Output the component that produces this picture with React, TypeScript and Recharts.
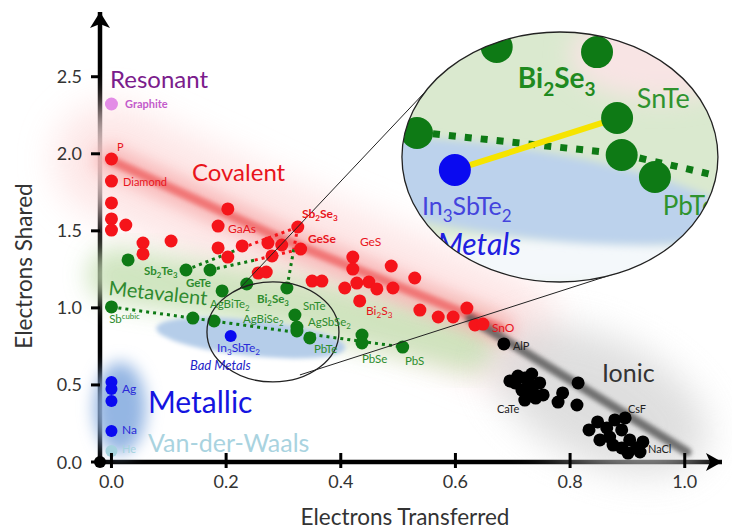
import { Scatter, ScatterChart, XAxis, YAxis } from 'recharts'

const FONT = 'Lato, "Open Sans", sans-serif'

// x = electrons transferred, y = electrons shared
const covalent = [
  { x: 0.0, y: 1.966 }, { x: 0.0, y: 1.823 }, { x: 0.0, y: 1.681 }, { x: 0.0, y: 1.577 },
  { x: 0.0, y: 1.505 }, { x: 0.025, y: 1.538 }, { x: 0.055, y: 1.421 }, { x: 0.055, y: 1.35 },
  { x: 0.104, y: 1.434 }, { x: 0.203, y: 1.642 }, { x: 0.186, y: 1.531 }, { x: 0.186, y: 1.389 },
  { x: 0.228, y: 1.402 }, { x: 0.203, y: 1.33 }, { x: 0.273, y: 1.421 }, { x: 0.325, y: 1.525 },
  { x: 0.297, y: 1.408 }, { x: 0.28, y: 1.337 }, { x: 0.33, y: 1.382 }, { x: 0.256, y: 1.226 },
  { x: 0.27, y: 1.233 }, { x: 0.35, y: 1.174 }, { x: 0.367, y: 1.174 }, { x: 0.421, y: 1.33 },
  { x: 0.421, y: 1.252 }, { x: 0.407, y: 1.129 }, { x: 0.428, y: 1.161 }, { x: 0.449, y: 1.168 },
  { x: 0.463, y: 1.123 }, { x: 0.433, y: 1.045 }, { x: 0.488, y: 1.272 }, { x: 0.491, y: 1.129 },
  { x: 0.529, y: 1.194 }, { x: 0.538, y: 0.986 }, { x: 0.57, y: 0.941 }, { x: 0.596, y: 0.941 },
  { x: 0.62, y: 0.999 }, { x: 0.634, y: 0.889 }, { x: 0.648, y: 0.895 },
]

const metavalent = [
  { x: 0.029, y: 1.311 }, { x: 0.13, y: 1.246 }, { x: 0.172, y: 1.246 }, { x: 0.193, y: 1.11 },
  { x: 0.236, y: 1.155 }, { x: 0.0, y: 1.006 }, { x: 0.142, y: 0.934 }, { x: 0.179, y: 0.915 },
  { x: 0.306, y: 1.129 }, { x: 0.32, y: 0.954 }, { x: 0.3235, y: 0.876 }, { x: 0.3235, y: 0.85 },
  { x: 0.346, y: 0.805 }, { x: 0.437, y: 0.824 }, { x: 0.437, y: 0.772 }, { x: 0.508, y: 0.746 },
]

const metallic = [
  { x: 0.0, y: 0.519 }, { x: 0.0, y: 0.474 }, { x: 0.0, y: 0.396 }, { x: 0.0, y: 0.201 },
]
const badMetal = [{ x: 0.208, y: 0.818 }]
const vanDerWaals = [{ x: 0.0, y: 0.071 }]
const resonant = [{ x: 0.0, y: 2.323 }]

const ionic = [
  { x: 0.6845, y: 0.766 }, { x: 0.695, y: 0.526 }, { x: 0.709, y: 0.558 }, { x: 0.721, y: 0.545 },
  { x: 0.733, y: 0.571 }, { x: 0.704, y: 0.513 }, { x: 0.73, y: 0.5 }, { x: 0.747, y: 0.513 },
  { x: 0.716, y: 0.467 }, { x: 0.726, y: 0.435 }, { x: 0.74, y: 0.415 }, { x: 0.753, y: 0.435 },
  { x: 0.721, y: 0.402 }, { x: 0.735, y: 0.454 }, { x: 0.787, y: 0.448 }, { x: 0.814, y: 0.513 },
  { x: 0.779, y: 0.389 }, { x: 0.812, y: 0.37 }, { x: 0.833, y: 0.208 }, { x: 0.848, y: 0.26 },
  { x: 0.864, y: 0.221 }, { x: 0.878, y: 0.273 }, { x: 0.896, y: 0.286 }, { x: 0.89, y: 0.208 },
  { x: 0.869, y: 0.162 }, { x: 0.852, y: 0.143 }, { x: 0.904, y: 0.143 }, { x: 0.916, y: 0.091 },
  { x: 0.927, y: 0.13 }, { x: 0.89, y: 0.091 }, { x: 0.901, y: 0.058 }, { x: 0.875, y: 0.11 },
  { x: 0.922, y: 0.065 },
]

// dotted transitions (start, colour change, end)
const sbTeToSbSe = [{ x: 0.13, y: 1.246 }, { x: 0.228, y: 1.39 }, { x: 0.325, y: 1.525 }]
const geTeToGeSe = [{ x: 0.172, y: 1.246 }, { x: 0.25, y: 1.31 }, { x: 0.33, y: 1.382 }]
const sbSeToBiSe = [{ x: 0.325, y: 1.525 }, { x: 0.318, y: 1.38 }, { x: 0.306, y: 1.129 }]
const sbToPbS = [{ x: 0.0, y: 1.006 }, { x: 0.508, y: 0.746 }]

// shaded regions
const covalentBand = [{ x: -0.003, y: 1.96 }, { x: 0.285, y: 1.467 }, { x: 0.678, y: 0.87 }]
const ionicBand = [{ x: 0.625, y: 0.934 }, { x: 1.004, y: 0.065 }]
const metavalentBand = [{ x: 0.006, y: 1.213 }, { x: 0.329, y: 1.019 }, { x: 0.625, y: 0.759 }]
const metallicCloud = [{ x: 0.015, y: 0.35 }]
const badMetalCloud = [{ x: 0.243, y: 0.805 }]
const ionicCloud = [{ x: 0.852, y: 0.402 }]

// magnifier
const lensSmall = [{ x: 0.2817, y: 0.844 }]
const lensBig = [{ x: 0.7823, y: 1.979 }]
const lensTop = [{ x: 0.221, y: 1.116 }, { x: 0.5503, y: 2.414 }]
const lensBottom = [{ x: 0.3287, y: 0.565 }, { x: 0.8869, y: 1.233 }]
const lensGreen = [
  { x: 0.672, y: 2.693 }, { x: 0.847, y: 2.66 }, { x: 0.533, y: 2.135 },
  { x: 0.882, y: 2.232 }, { x: 0.89, y: 1.992 }, { x: 0.948, y: 1.849 },
]
const lensBlue = [{ x: 0.599, y: 1.895 }]
const lensBond = [{ x: 0.599, y: 1.895 }, { x: 0.882, y: 2.232 }]
const lensDotted = [{ x: 0.533, y: 2.141 }, { x: 0.89, y: 1.999 }, { x: 1.058, y: 1.856 }]
const lensBlueCloud = [{ x: 0.69, y: 1.76 }]
const lensPinkCloud = [{ x: 0.957, y: 2.641 }]
const lensWhiteCloud = [{ x: 0.782, y: 1.3 }]

// labels
const redSmall = [
  { text: 'GaAs', x: 0.2032, y: 1.486 }, { text: 'GeS', x: 0.4334, y: 1.402 },
  { text: 'Bi_2S_3', x: 0.4439, y: 0.954 }, { text: 'SnO', x: 0.6636, y: 0.844 },
]
const redBold = [{ text: 'Sb_2Se_3', x: 0.3323, y: 1.583 }, { text: 'GeSe', x: 0.3427, y: 1.421 }]
const redTiny = [{ text: 'P', x: 0.0096, y: 2.018 }, { text: 'Diamond', x: 0.0201, y: 1.791 }]
const greenSmall = [
  { text: 'Sb^cubic', x: -0.004, y: 0.902 }, { text: 'AgBiTe_2', x: 0.1718, y: 0.999 },
  { text: 'AgBiSe_2', x: 0.2294, y: 0.902 }, { text: 'SnTe', x: 0.334, y: 0.986 },
  { text: 'AgSbSe_2', x: 0.3427, y: 0.883 }, { text: 'PbTe', x: 0.3532, y: 0.707 },
  { text: 'PbSe', x: 0.4369, y: 0.642 }, { text: 'PbS', x: 0.5119, y: 0.629 },
]
const greenBold = [
  { text: 'Sb_2Te_3', x: 0.0567, y: 1.213 }, { text: 'GeTe', x: 0.13, y: 1.136 },
  { text: 'Bi_2Se_3', x: 0.2538, y: 1.032 },
]
const blueSmall = [
  { text: 'In_3SbTe_2', x: 0.184, y: 0.714 }, { text: 'Ag', x: 0.0184, y: 0.448 },
  { text: 'Na', x: 0.0184, y: 0.182 },
]
const heLabel = [{ text: 'He', x: 0.0184, y: 0.058 }]
const graphiteLabel = [{ text: 'Graphite', x: 0.0236, y: 2.297 }]
const blackSmall = [
  { text: 'AlP', x: 0.7003, y: 0.727 }, { text: 'CaTe', x: 0.6724, y: 0.318 },
  { text: 'CsF', x: 0.9009, y: 0.318 }, { text: 'NaCl', x: 0.9358, y: 0.058 },
]
const titles = [
  { text: 'Resonant', x: -0.0026, y: 2.427 }, { text: 'Covalent', x: 0.1404, y: 1.823 },
  { text: 'Metavalent', x: -0.006, y: 1.084 }, { text: 'Bad Metals', x: 0.1369, y: 0.597 },
  { text: 'Metallic', x: 0.0637, y: 0.318 }, { text: 'Van-der-Waals', x: 0.0637, y: 0.065 },
  { text: 'Ionic', x: 0.8555, y: 0.519 },
]
const lensLabels = [
  { text: 'Bi_2Se_3', x: 0.7089, y: 2.427 }, { text: 'SnTe', x: 0.9165, y: 2.297 },
  { text: 'PbTe', x: 0.9618, y: 1.603 }, { text: 'In_3SbTe_2', x: 0.5416, y: 1.6 },
  { text: 'Metals', x: 0.5677, y: 1.34 },
]

const origin = [{ x: -0.02, y: 0 }]
const xEnd = [{ x: 1.065, y: 0 }]
const yEnd = [{ x: -0.02, y: 2.92 }]
const X_TICKS = [0, 0.2, 0.4, 0.6, 0.8, 1.0]
const Y_TICKS = [0, 0.5, 1.0, 1.5, 2.0, 2.5]

type TStyle = { fill: string; size: number; weight?: number; italic?: boolean; rotate?: number; clip?: boolean }

const titleStyle: Record<string, TStyle> = {
  Resonant: { fill: '#7b1c8c', size: 24 },
  Covalent: { fill: '#e8141c', size: 24 },
  Metavalent: { fill: '#2f8a2f', size: 20, rotate: 6 },
  'Bad Metals': { fill: '#2323c8', size: 13, italic: true },
  Metallic: { fill: '#1414e0', size: 30 },
  'Van-der-Waals': { fill: '#a9d3df', size: 25 },
  Ionic: { fill: '#333333', size: 25 },
}
const lensStyle: Record<string, TStyle> = {
  Bi_2Se_3: { fill: '#1f8a1f', size: 28, weight: 700, clip: true },
  SnTe: { fill: '#2f932f', size: 27, clip: true },
  PbTe: { fill: '#2f932f', size: 26, clip: true },
  In_3SbTe_2: { fill: '#4444dd', size: 25, clip: true },
  Metals: { fill: '#2020e0', size: 30, italic: true, clip: true },
}

function rich(text: string, fs: number) {
  const parts = text.split(/(_\d|\^[a-z]+)/).filter(Boolean)
  let shift = 0
  return parts.map((p, i) => {
    if (p[0] === '_' || p[0] === '^') {
      const d = p[0] === '_' ? fs * 0.28 : -fs * 0.38
      const el = (
        <tspan key={i} dy={d - shift} fontSize={fs * 0.68}>
          {p.slice(1)}
        </tspan>
      )
      shift = d
      return el
    }
    const el = (
      <tspan key={i} dy={-shift}>
        {p}
      </tspan>
    )
    shift = 0
    return el
  })
}

function textEl(cx: number, cy: number, text: string, s: TStyle) {
  return (
    <text
      x={cx}
      y={cy}
      fill={s.fill}
      fontSize={s.size}
      fontWeight={s.weight ?? 400}
      fontStyle={s.italic ? 'italic' : 'normal'}
      fontFamily={FONT}
      transform={s.rotate ? `rotate(${s.rotate} ${cx} ${cy})` : undefined}
      clipPath={s.clip ? 'url(#lensClip)' : undefined}
    >
      {rich(text, s.size)}
    </text>
  )
}

const label = (s: TStyle) => (p: any) => textEl(p.cx, p.cy, p.payload.text, s)
const styledLabel = (map: Record<string, TStyle>) => (p: any) =>
  textEl(p.cx, p.cy, p.payload.text, map[p.payload.text])

const dot = (fill: string, r: number, clip = false) => (p: any) => (
  <circle cx={p.cx} cy={p.cy} r={r} fill={fill} clipPath={clip ? 'url(#lensClip)' : undefined} />
)

type CStyle = { fill: string; rx: number; ry: number; blur?: string; rotate?: number; opacity?: number; clip?: boolean }
const cloud = (c: CStyle) => (p: any) => (
  <g clipPath={c.clip ? 'url(#lensClip)' : undefined}>
    <ellipse
      cx={p.cx}
      cy={p.cy}
      rx={c.rx}
      ry={c.ry}
      fill={c.fill}
      opacity={c.opacity ?? 1}
      filter={c.blur ? `url(#${c.blur})` : undefined}
      transform={c.rotate ? `rotate(${c.rotate} ${p.cx} ${p.cy})` : undefined}
    />
  </g>
)

const none = () => <g />

const LENS_RX = 158
const LENS_RY = 125

const defsShape = (p: any) => (
  <defs>
    {[2, 4, 8, 12, 18].map((b) => (
      <filter key={b} id={`b${b}`} x="-60%" y="-60%" width="220%" height="220%">
        <feGaussianBlur stdDeviation={b} />
      </filter>
    ))}
    <clipPath id="lensClip">
      <ellipse cx={p.cx} cy={p.cy} rx={LENS_RX} ry={LENS_RY} />
    </clipPath>
  </defs>
)

const lensFill = (p: any) => <ellipse cx={p.cx} cy={p.cy} rx={LENS_RX} ry={LENS_RY} fill="#dae9cf" />
const lensOutline = (p: any) => (
  <ellipse cx={p.cx} cy={p.cy} rx={LENS_RX} ry={LENS_RY} fill="none" stroke="#222" strokeWidth={1.3} />
)
const smallLens = (p: any) => (
  <ellipse cx={p.cx} cy={p.cy} rx={66} ry={50} fill="none" stroke="#222" strokeWidth={1.3} />
)

const yArrow = (p: any) => (
  <path d={`M${p.cx},${p.cy} L${p.cx - 10},${p.cy + 16} L${p.cx},${p.cy + 12} L${p.cx + 10},${p.cy + 16} Z`} fill="#000" />
)
const xArrow = (p: any) => (
  <path d={`M${p.cx},${p.cy} L${p.cx - 16},${p.cy - 9} L${p.cx - 12},${p.cy} L${p.cx - 16},${p.cy + 9} Z`} fill="#000" />
)

const XTick = (p: any) => (
  <g>
    <line x1={p.x} x2={p.x} y1={p.y - 9} y2={p.y + 6} stroke="#000" strokeWidth={3} />
    <text x={p.x} y={p.y + 26} textAnchor="middle" fontSize={18} fill="#333" fontFamily={FONT}>
      {Number(p.payload.value).toFixed(1)}
    </text>
  </g>
)
const YTick = (p: any) => (
  <g>
    <line x1={p.x - 9} x2={p.x} y1={p.y} y2={p.y} stroke="#000" strokeWidth={3} />
    <text x={p.x - 18} y={p.y + 6.5} textAnchor="end" fontSize={18} fill="#333" fontFamily={FONT}>
      {Number(p.payload.value).toFixed(1)}
    </text>
  </g>
)

const dotted = (stroke: string) => ({ stroke, strokeWidth: 3, strokeDasharray: '3 4' })

export default function App() {
  const GREEN = '#0e7a15'
  const RED = '#f5141a'
  return (
    <div style={{ position: 'absolute', left: 0, top: 0, width: 732, height: 531, background: '#fff' }}>
      <ScatterChart width={732} height={531} margin={{ top: 12, right: 10, bottom: 29, left: 40 }}>
        <XAxis
          type="number"
          dataKey="x"
          domain={[-0.02, 1.065]}
          ticks={X_TICKS}
          height={40}
          tickSize={0}
          tickMargin={0}
          tickLine={false}
          tick={(p: any) => <XTick {...p} />}
          axisLine={{ stroke: '#000', strokeWidth: 4.5 }}
          label={{
            content: (l: any) => (
              <text
                x={l.viewBox.x + l.viewBox.width / 2 - 6}
                y={l.viewBox.y + 63}
                textAnchor="middle"
                fontSize={22.5}
                fill="#333"
                fontFamily={FONT}
              >
                Electrons Transferred
              </text>
            ),
          }}
        />
        <YAxis
          type="number"
          dataKey="y"
          domain={[0, 2.92]}
          ticks={Y_TICKS}
          width={60}
          tickSize={0}
          tickMargin={0}
          tickLine={false}
          tick={(p: any) => <YTick {...p} />}
          axisLine={{ stroke: '#000', strokeWidth: 4.5 }}
          label={{
            content: (l: any) => {
              const x = l.viewBox.x - 8
              const y = l.viewBox.y + l.viewBox.height / 2 + 29
              return (
                <text
                  x={x}
                  y={y}
                  transform={`rotate(-90 ${x} ${y})`}
                  textAnchor="middle"
                  fontSize={22.5}
                  fill="#333"
                  fontFamily={FONT}
                >
                  Electrons Shared
                </text>
              )
            },
          }}
        />

        <Scatter data={lensBig} shape={defsShape} isAnimationActive={false} />

        {/* shaded regions */}
        <Scatter
          data={covalentBand}
          shape={none}
          line={{ stroke: '#fde0e0', strokeWidth: 110, strokeLinecap: 'round', strokeLinejoin: 'round', filter: 'url(#b18)', opacity: 0.8 }}
          isAnimationActive={false}
        />
        <Scatter
          data={metavalentBand}
          shape={none}
          line={{ stroke: '#cbe2b9', strokeWidth: 55, strokeLinecap: 'round', strokeLinejoin: 'round', filter: 'url(#b12)', opacity: 0.9 }}
          isAnimationActive={false}
        />
        <Scatter data={ionicCloud} shape={cloud({ fill: '#d4d4d4', rx: 115, ry: 62, blur: 'b18', rotate: 25, opacity: 0.75 })} isAnimationActive={false} />
        <Scatter
          data={covalentBand}
          shape={none}
          line={{ stroke: '#f7a9a9', strokeWidth: 30, strokeLinecap: 'round', strokeLinejoin: 'round', filter: 'url(#b8)', opacity: 0.7 }}
          isAnimationActive={false}
        />
        <Scatter
          data={covalentBand}
          shape={none}
          line={{ stroke: '#f06a6a', strokeWidth: 9, strokeLinecap: 'round', strokeLinejoin: 'round', filter: 'url(#b2)', opacity: 0.85 }}
          isAnimationActive={false}
        />
        <Scatter
          data={ionicBand}
          shape={none}
          line={{ stroke: '#555555', strokeWidth: 9, strokeLinecap: 'round', filter: 'url(#b2)', opacity: 0.8 }}
          isAnimationActive={false}
        />
        <Scatter data={metallicCloud} shape={cloud({ fill: '#94b6e3', rx: 26, ry: 46, blur: 'b8' })} isAnimationActive={false} />
        <Scatter data={badMetalCloud} shape={cloud({ fill: '#b5cde9', rx: 95, ry: 18, blur: 'b2', rotate: 6 })} isAnimationActive={false} />

        {/* transitions */}
        <Scatter data={sbTeToSbSe.slice(0, 2)} shape={none} line={dotted(GREEN)} isAnimationActive={false} />
        <Scatter data={sbTeToSbSe.slice(1)} shape={none} line={dotted(RED)} isAnimationActive={false} />
        <Scatter data={geTeToGeSe.slice(0, 2)} shape={none} line={dotted(GREEN)} isAnimationActive={false} />
        <Scatter data={geTeToGeSe.slice(1)} shape={none} line={dotted(RED)} isAnimationActive={false} />
        <Scatter data={sbSeToBiSe.slice(0, 2)} shape={none} line={dotted(RED)} isAnimationActive={false} />
        <Scatter data={sbSeToBiSe.slice(1)} shape={none} line={dotted(GREEN)} isAnimationActive={false} />
        <Scatter data={sbToPbS} shape={none} line={dotted(GREEN)} isAnimationActive={false} />

        {/* materials */}
        <Scatter data={covalent} shape={dot(RED, 6.5)} isAnimationActive={false} />
        <Scatter data={metavalent} shape={dot(GREEN, 6.5)} isAnimationActive={false} />
        <Scatter data={metallic} shape={dot('#0a0af0', 6)} isAnimationActive={false} />
        <Scatter data={badMetal} shape={dot('#0a0af0', 6)} isAnimationActive={false} />
        <Scatter data={vanDerWaals} shape={dot('#a6d3de', 6)} isAnimationActive={false} />
        <Scatter data={resonant} shape={dot('#e38ce6', 6.5)} isAnimationActive={false} />
        <Scatter data={ionic} shape={dot('#000', 6.5)} isAnimationActive={false} />

        {/* magnifier */}
        <Scatter data={lensSmall} shape={smallLens} isAnimationActive={false} />
        <Scatter data={lensTop} shape={none} line={{ stroke: '#222', strokeWidth: 1 }} isAnimationActive={false} />
        <Scatter data={lensBottom} shape={none} line={{ stroke: '#222', strokeWidth: 1 }} isAnimationActive={false} />
        <Scatter data={lensBig} shape={lensFill} isAnimationActive={false} />
        <Scatter data={lensPinkCloud} shape={cloud({ fill: '#f8e4e4', rx: 90, ry: 45, blur: 'b12', clip: true })} isAnimationActive={false} />
        <Scatter data={lensWhiteCloud} shape={cloud({ fill: '#f4f8fb', rx: 170, ry: 28, blur: 'b8', clip: true })} isAnimationActive={false} />
        <Scatter data={lensBlueCloud} shape={cloud({ fill: '#bcd2ec', rx: 230, ry: 44, blur: 'b4', rotate: 8, clip: true })} isAnimationActive={false} />
        <Scatter
          data={lensDotted}
          shape={none}
          line={{ stroke: GREEN, strokeWidth: 7, strokeDasharray: '7 9', clipPath: 'url(#lensClip)' }}
          isAnimationActive={false}
        />
        <Scatter data={lensBond} shape={none} line={{ stroke: '#f6e400', strokeWidth: 6 }} isAnimationActive={false} />
        <Scatter data={lensGreen} shape={dot(GREEN, 16, true)} isAnimationActive={false} />
        <Scatter data={lensBlue} shape={dot('#0a0af0', 16, true)} isAnimationActive={false} />
        <Scatter data={lensLabels} shape={styledLabel(lensStyle)} isAnimationActive={false} />
        <Scatter data={lensBig} shape={lensOutline} isAnimationActive={false} />

        {/* labels */}
        <Scatter data={redSmall} shape={label({ fill: '#e8141c', size: 12 })} isAnimationActive={false} />
        <Scatter data={redBold} shape={label({ fill: '#e8141c', size: 12, weight: 700 })} isAnimationActive={false} />
        <Scatter data={redTiny} shape={label({ fill: '#e8141c', size: 11 })} isAnimationActive={false} />
        <Scatter data={greenSmall} shape={label({ fill: '#2d8c2d', size: 11.5 })} isAnimationActive={false} />
        <Scatter data={greenBold} shape={label({ fill: '#2d8c2d', size: 11.5, weight: 700 })} isAnimationActive={false} />
        <Scatter data={blueSmall} shape={label({ fill: '#2a2ad8', size: 12 })} isAnimationActive={false} />
        <Scatter data={heLabel} shape={label({ fill: '#a6d3de', size: 11 })} isAnimationActive={false} />
        <Scatter data={graphiteLabel} shape={label({ fill: '#c35bcb', size: 11, weight: 700 })} isAnimationActive={false} />
        <Scatter data={blackSmall} shape={label({ fill: '#222', size: 11 })} isAnimationActive={false} />
        <Scatter data={titles} shape={styledLabel(titleStyle)} isAnimationActive={false} />

        {/* axis decorations */}
        <Scatter data={yEnd} shape={yArrow} isAnimationActive={false} />
        <Scatter data={xEnd} shape={xArrow} isAnimationActive={false} />
        <Scatter data={origin} shape={dot('#000', 6)} isAnimationActive={false} />
      </ScatterChart>
    </div>
  )
}
